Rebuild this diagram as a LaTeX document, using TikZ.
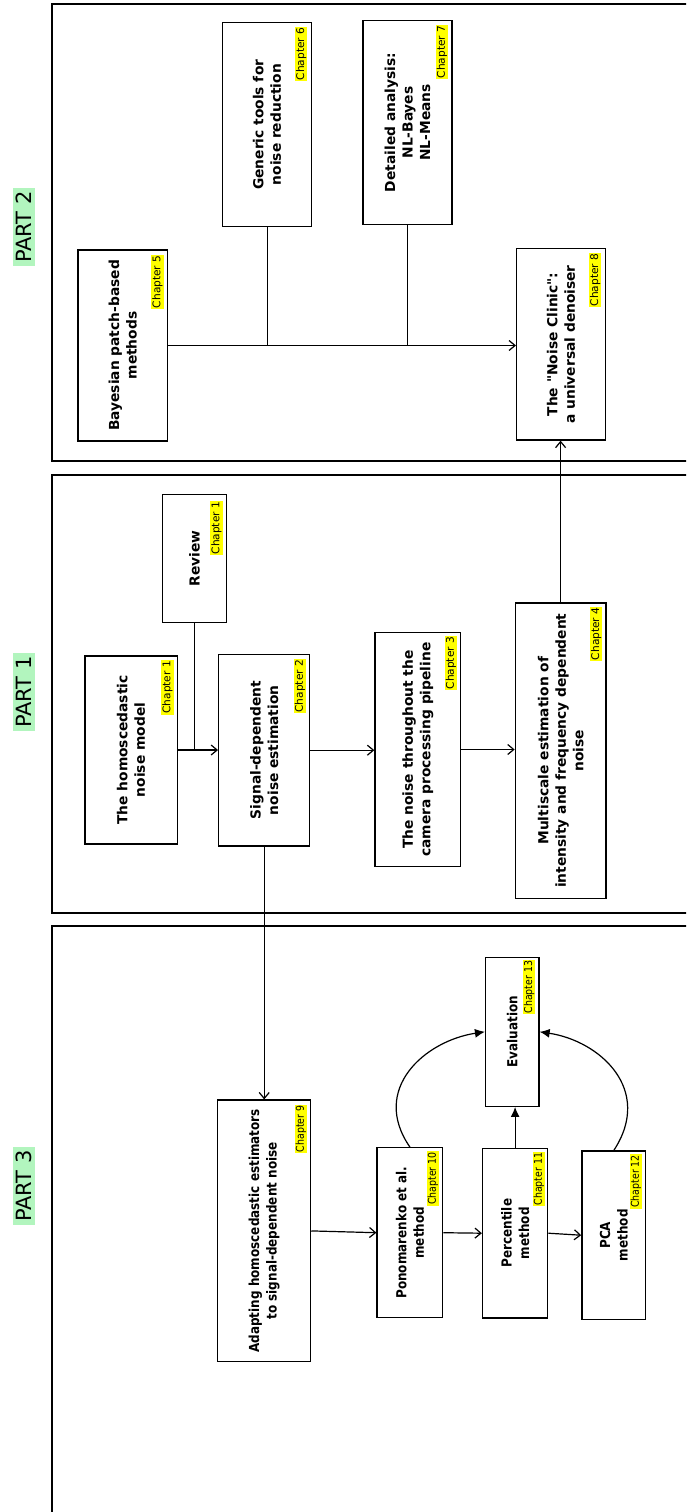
\documentclass[tikz,border=0pt]{standalone}
\usepackage{fontspec}
\setmainfont{DejaVu Sans}[Ligatures=TeXOff]
\newfontfamily\narrowfont{DejaVu Sans}[Ligatures=TeXOff,FakeStretch=0.87]
\usetikzlibrary{arrows.meta,calc}
\definecolor{partgreen}{RGB}{178,245,190}
\definecolor{chapyellow}{RGB}{255,255,0}
\begin{document}
\begin{tikzpicture}[x=1pt,y=-1pt,
  frame/.style={draw,line width=1.3pt},
  box/.style={draw,line width=1.3pt,rectangle,inner sep=0pt,fill=white},
  txt/.style={rotate=90,align=center,inner sep=0pt,font=\fontsize{13.8}{17.5}\selectfont\bfseries},
  txtsm/.style={rotate=90,align=center,inner sep=0pt,font=\narrowfont\fontsize{13.8}{17.5}\selectfont\bfseries},
  chap/.style={rotate=90,anchor=south east,fill=chapyellow,inner sep=1pt,font=\fontsize{10.6}{12}\selectfont},
  chapsm/.style={chap,font=\narrowfont\fontsize{10.8}{12}\selectfont},
  partlbl/.style={rotate=90,fill=partgreen,inner sep=3pt,font=\fontsize{21}{24}\selectfont},
  conn/.style={line width=1.2pt,-{Straight Barb[length=6pt,width=10pt,line width=1.2pt]}},
  plain/.style={line width=1.2pt},
  fconn/.style={line width=1.2pt,-{Latex[length=10pt,width=9pt]}}]
\useasboundingbox (0,0) rectangle (686,1512);
\clip (0,0) rectangle (686,1512);
\fill[white] (0,0) rectangle (686,1512);

% frames
\draw[frame] (52,4) rectangle (720,461);
\draw[frame] (52,475) rectangle (720,913);
\draw[frame] (52,926) rectangle (720,1540);

% part labels
\node[partlbl] (p2) at (24,227) {PART 2};
\node[partlbl] (p1) at (24,692) {PART 1};
\node[partlbl] (p3) at (24,1186) {PART 3};

% ---------- PART 2 ----------
\node[box,minimum width=89.5pt,minimum height=191pt] (bay) at (122.8,345.5) {};
\node[box,minimum width=88.8pt,minimum height=204pt] (gen) at (267.1,124.7) {};
\node[box,minimum width=89pt,minimum height=203.6pt] (det) at (407.5,122.5) {};
\node[box,minimum width=88.8pt,minimum height=191.3pt] (nc) at (561,344.4) {};

\node[txt] (tbay) at (bay.center) {Bayesian patch-based\\methods};
\node[txt] (tgen) at (gen.center) {Generic tools for\\noise reduction};
\node[txt] (tdet) at (det.center) {Detailed analysis:\\NL-Bayes\\NL-Means};
\node[txt] (tnc) at (nc.center) {The "Noise Clinic":\\a universal denoiser};

\node[chap] (c5) at ($(bay.north east)+(-4.5,5)$) {Chapter 5};
\node[chap] (c6) at ($(gen.north east)+(-4.5,4.5)$) {Chapter 6};
\node[chap] (c7) at ($(det.north east)+(-4.5,4.5)$) {Chapter 7};
\node[chap] (c8) at ($(nc.north east)+(-4.5,4.5)$) {Chapter 8};

\coordinate (j2) at (bay.east);
\draw[conn] (bay.east) -- (bay.east -| nc.west);
\draw[plain] (gen.south) -- (gen.south |- j2);
\draw[plain] (det.south) -- (det.south |- j2);

% ---------- PART 1 ----------
\node[box,minimum width=63.5pt,minimum height=128.4pt] (rev) at (194.5,558.5) {};
\node[box,minimum width=92.3pt,minimum height=188pt] (hom) at (131,750) {};
\node[box,minimum width=91pt,minimum height=191.7pt] (sig) at (264.2,750.2) {};
\node[box,minimum width=85.7pt,minimum height=234.4pt] (thr) at (417.8,749.5) {};
\node[box,minimum width=90.6pt,minimum height=295.3pt] (mul) at (560.6,750.7) {};

\node[txt] (trev) at (rev.center) {Review};
\node[txt] (thom) at (hom.center) {The homoscedastic\\noise model};
\node[txt] (tsig) at (sig.center) {Signal-dependent\\noise estimation};
\node[txt] (tthr) at (thr.center) {The noise throughout the\\camera processing pipeline};
\node[txt] (tmul) at (mul.center) {Multiscale estimation of\\intensity and frequency dependent\\noise};

\node[chap] (c1r) at ($(rev.north east)+(-4,7)$) {Chapter 1};
\node[chap] (c1) at ($(hom.north east)+(-4,4.5)$) {Chapter 1};
\node[chap] (c2) at ($(sig.north east)+(-4,5)$) {Chapter 2};
\node[chap] (c3) at ($(thr.north east)+(-4,4)$) {Chapter 3};
\node[chap] (c4) at ($(mul.north east)+(-4,4)$) {Chapter 4};

\draw[conn] (hom.east) -- (hom.east -| sig.west);
\draw[plain] (rev.south) -- (rev.south |- hom.east);
\draw[conn] (sig.east) -- (sig.east -| thr.west);
\draw[conn] (thr.east) -- (thr.east -| mul.west);
\draw[conn] (mul.north) -- (mul.north |- nc.south);

% ---------- PART 3 ----------
\node[box,minimum width=92.8pt,minimum height=261.7pt] (ada) at (264.2,1230.9) {};
\node[box,minimum width=53.4pt,minimum height=149pt] (eva) at (512.3,1031.8) {};
\node[box,minimum width=65.7pt,minimum height=170pt] (pon) at (409.9,1232.7) {};
\node[box,minimum width=65.2pt,minimum height=169.7pt] (per) at (515.1,1233.2) {};
\node[box,minimum width=63.9pt,minimum height=168.3pt] (pca) at (613.8,1235.2) {};

\node[txtsm] (tada) at (ada.center) {Adapting homoscedastic estimators\\to signal-dependent noise};
\node[txtsm] (teva) at (eva.center) {Evaluation};
\node[txtsm] (tpon) at (pon.center) {Ponomarenko et al.\\method};
\node[txtsm] (tper) at (per.center) {Percentile\\method};
\node[txtsm] (tpca) at (pca.center) {PCA\\method};

\node[chapsm] (c9) at ($(ada.north east)+(-4,5)$) {Chapter 9};
\node[chapsm] (c13) at ($(eva.north east)+(-4,3)$) {Chapter 13};
\node[chapsm] (c10) at ($(pon.north east)+(-4,4)$) {Chapter 10};
\node[chapsm] (c11) at ($(per.north east)+(-3,4)$) {Chapter 11};
\node[chapsm] (c12) at ($(pca.north east)+(-4,3.5)$) {Chapter 12};

\draw[conn] (sig.south) -- (sig.south |- ada.north);
\draw[conn] (ada.east) -- (pon.west);
\draw[conn] (pon.east) -- (per.west);
\draw[conn] (per.east) -- (pca.west);
\draw[fconn] (per.north) -- (per.north |- eva.south);
\draw[fconn] (pon.north) .. controls +(-40,-58) and ($(eva.west)+(-60,9)$) .. (eva.west);
\draw[fconn] (pca.north) .. controls +(40,-61) and ($(eva.east)+(60,9)$) .. (eva.east);
\end{tikzpicture}
\end{document}
